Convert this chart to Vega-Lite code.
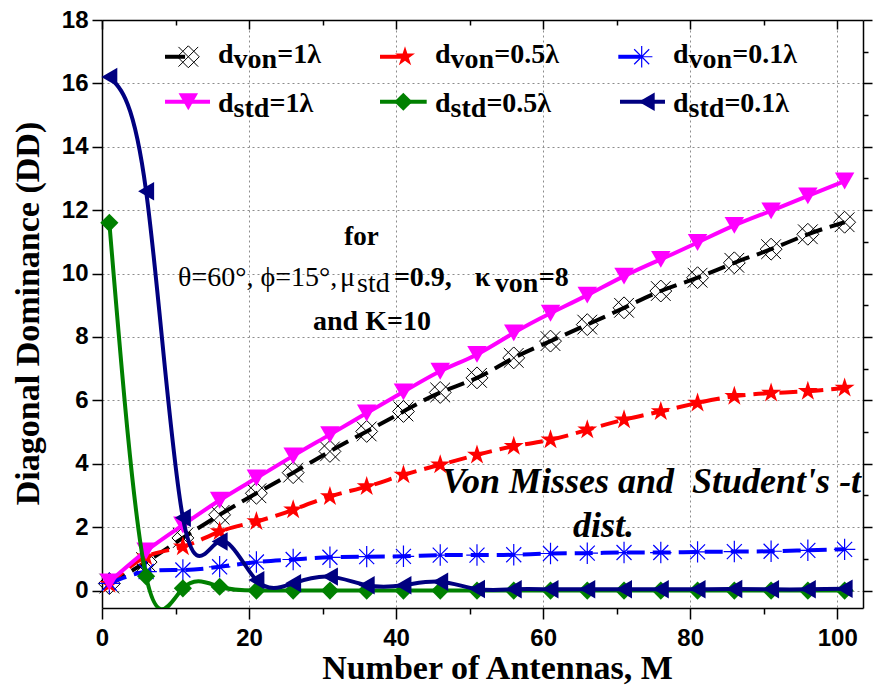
{
  "$schema": "https://vega.github.io/schema/vega-lite/v6.json",
  "width": 761,
  "height": 588,
  "autosize": {"type": "none"},
  "padding": {"left": 102, "top": 20, "right": 10, "bottom": 78},
  "background": "white",
  "datasets": {
    "von1": [
      {"M": 1, "DD": 0.22}, {"M": 6, "DD": 0.9}, {"M": 11, "DD": 1.66}, {"M": 16, "DD": 2.39}, {"M": 21, "DD": 3.07},
      {"M": 26, "DD": 3.72}, {"M": 31, "DD": 4.39}, {"M": 36, "DD": 5.02}, {"M": 41, "DD": 5.65}, {"M": 46, "DD": 6.25},
      {"M": 51, "DD": 6.71}, {"M": 56, "DD": 7.34}, {"M": 61, "DD": 7.87}, {"M": 66, "DD": 8.39}, {"M": 71, "DD": 8.92},
      {"M": 76, "DD": 9.45}, {"M": 81, "DD": 9.87}, {"M": 86, "DD": 10.34}, {"M": 91, "DD": 10.77}, {"M": 96, "DD": 11.24},
      {"M": 101, "DD": 11.62}
    ],
    "von05": [
      {"M": 1, "DD": 0.2}, {"M": 6, "DD": 1.07}, {"M": 11, "DD": 1.38}, {"M": 16, "DD": 1.86}, {"M": 21, "DD": 2.18},
      {"M": 26, "DD": 2.55}, {"M": 31, "DD": 2.97}, {"M": 36, "DD": 3.28}, {"M": 41, "DD": 3.65}, {"M": 46, "DD": 3.97},
      {"M": 51, "DD": 4.28}, {"M": 56, "DD": 4.55}, {"M": 61, "DD": 4.76}, {"M": 66, "DD": 5.07}, {"M": 71, "DD": 5.39},
      {"M": 76, "DD": 5.65}, {"M": 81, "DD": 5.92}, {"M": 86, "DD": 6.13}, {"M": 91, "DD": 6.23}, {"M": 96, "DD": 6.29},
      {"M": 101, "DD": 6.39}
    ],
    "von01": [
      {"M": 1, "DD": 0.23}, {"M": 6, "DD": 0.6}, {"M": 11, "DD": 0.65}, {"M": 16, "DD": 0.75}, {"M": 21, "DD": 0.9},
      {"M": 26, "DD": 0.98}, {"M": 31, "DD": 1.05}, {"M": 36, "DD": 1.07}, {"M": 41, "DD": 1.08}, {"M": 46, "DD": 1.12},
      {"M": 51, "DD": 1.12}, {"M": 56, "DD": 1.13}, {"M": 61, "DD": 1.17}, {"M": 66, "DD": 1.18}, {"M": 71, "DD": 1.2},
      {"M": 76, "DD": 1.2}, {"M": 81, "DD": 1.22}, {"M": 86, "DD": 1.23}, {"M": 91, "DD": 1.24}, {"M": 96, "DD": 1.27},
      {"M": 101, "DD": 1.3}
    ],
    "std1": [
      {"M": 1, "DD": 0.27}, {"M": 6, "DD": 1.25}, {"M": 11, "DD": 2.07}, {"M": 16, "DD": 2.85}, {"M": 21, "DD": 3.55},
      {"M": 26, "DD": 4.25}, {"M": 31, "DD": 4.92}, {"M": 36, "DD": 5.6}, {"M": 41, "DD": 6.27}, {"M": 46, "DD": 6.92},
      {"M": 51, "DD": 7.45}, {"M": 56, "DD": 8.13}, {"M": 61, "DD": 8.75}, {"M": 66, "DD": 9.32}, {"M": 71, "DD": 9.92},
      {"M": 76, "DD": 10.45}, {"M": 81, "DD": 10.98}, {"M": 86, "DD": 11.52}, {"M": 91, "DD": 11.98}, {"M": 96, "DD": 12.45},
      {"M": 101, "DD": 12.92}
    ],
    "std05": [
      {"M": 1, "DD": 11.6}, {"M": 6, "DD": 0.45}, {"M": 11, "DD": 0.07}, {"M": 16, "DD": 0.12}, {"M": 21, "DD": 0.0},
      {"M": 26, "DD": 0.0}, {"M": 31, "DD": 0.0}, {"M": 36, "DD": 0.0}, {"M": 41, "DD": 0.0}, {"M": 46, "DD": 0.0},
      {"M": 51, "DD": 0.0}, {"M": 56, "DD": 0.0}, {"M": 61, "DD": 0.0}, {"M": 66, "DD": 0.0}, {"M": 71, "DD": 0.0},
      {"M": 76, "DD": 0.0}, {"M": 81, "DD": 0.0}, {"M": 86, "DD": 0.0}, {"M": 91, "DD": 0.0}, {"M": 96, "DD": 0.0},
      {"M": 101, "DD": 0.0}
    ],
    "std01": [
      {"M": 1, "DD": 16.2}, {"M": 6, "DD": 12.6}, {"M": 11, "DD": 2.3}, {"M": 16, "DD": 1.55}, {"M": 21, "DD": 0.33},
      {"M": 26, "DD": 0.23}, {"M": 31, "DD": 0.44}, {"M": 36, "DD": 0.17}, {"M": 41, "DD": 0.17}, {"M": 46, "DD": 0.28},
      {"M": 51, "DD": 0.05}, {"M": 56, "DD": 0.04}, {"M": 61, "DD": 0.04}, {"M": 66, "DD": 0.04}, {"M": 71, "DD": 0.04},
      {"M": 76, "DD": 0.04}, {"M": 81, "DD": 0.04}, {"M": 86, "DD": 0.05}, {"M": 91, "DD": 0.04}, {"M": 96, "DD": 0.04},
      {"M": 101, "DD": 0.06}
    ],
    "one": [{}]
  },
  "config": {
    "view": {"stroke": null},
    "axis": {
      "domainColor": "black",
      "domainWidth": 1.5,
      "tickColor": "black",
      "tickWidth": 1.5,
      "labelFont": "Liberation Sans",
      "labelFontWeight": "bold",
      "labelFontSize": 24,
      "labelColor": "black",
      "titleFont": "Liberation Serif",
      "titleFontWeight": "bold",
      "titleFontSize": 34,
      "titleColor": "black",
      "gridColor": "#8c8c8c",
      "gridDash": [2, 3],
      "gridWidth": 1
    },
    "text": {"font": "Liberation Serif", "fontWeight": "bold", "fontSize": 28, "color": "black", "align": "left", "baseline": "alphabetic"}
  },
  "layer": [
    {
      "layer": [
        {
          "data": {"name": "von1"},
          "mark": {"type": "line", "color": "black", "strokeWidth": 4, "strokeDash": [18, 8], "interpolate": "natural", "clip": true},
          "encoding": {
            "x": {
              "field": "M", "type": "quantitative",
              "scale": {"domain": [0, 103.5], "nice": false, "zero": false},
              "axis": {
                "orient": "bottom",
                "title": "Number of Antennas, M",
                "titleX": 395, "titleY": 70, "titleAlign": "center", "titleBaseline": "alphabetic",
                "values": [0, 10, 20, 30, 40, 50, 60, 70, 80, 90, 100],
                "labelExpr": "datum.value % 20 === 0 ? datum.label : ''",
                "labelPadding": 7,
                "labelFlush": false,
                "tickSize": {"condition": {"test": "datum.value % 20 !== 0", "value": 6}, "value": 11},
                "grid": true,
                "gridOpacity": {"condition": {"test": "datum.value % 20 !== 0 || datum.value === 0", "value": 0}, "value": 1}
              }
            },
            "y": {
              "field": "DD", "type": "quantitative",
              "scale": {"domain": [-0.55, 18], "nice": false, "zero": false},
              "axis": {
                "orient": "left",
                "title": "Diagonal Dominance (DD)",
                "titleX": -64, "titleY": 293, "titleAngle": -90, "titleAlign": "center", "titleBaseline": "alphabetic",
                "values": [0, 1, 2, 3, 4, 5, 6, 7, 8, 9, 10, 11, 12, 13, 14, 15, 16, 17, 18],
                "labelExpr": "datum.value % 2 === 0 ? datum.label : ''",
                "labelPadding": 4,
                "labelFlush": false,
                "tickSize": {"condition": {"test": "datum.value % 2 !== 0", "value": 5}, "value": 10},
                "grid": true,
                "gridOpacity": {"condition": {"test": "datum.value % 2 !== 0 || datum.value === 18", "value": 0}, "value": 1}
              }
            }
          }
        },
        {
          "data": {"name": "von1"},
          "mark": {"type": "point", "shape": "M0,-1L1,0L0,1L-1,0Z M-0.9,-0.9L0.9,0.9 M0.9,-0.9L-0.9,0.9", "filled": false, "stroke": "black", "strokeWidth": 1, "size": 480, "opacity": 1},
          "encoding": {"x": {"field": "M", "type": "quantitative"}, "y": {"field": "DD", "type": "quantitative"}}
        },
        {
          "data": {"name": "von05"},
          "mark": {"type": "line", "color": "#ff0000", "strokeWidth": 4, "strokeDash": [18, 8], "interpolate": "natural", "clip": true},
          "encoding": {"x": {"field": "M", "type": "quantitative"}, "y": {"field": "DD", "type": "quantitative"}}
        },
        {
          "data": {"name": "von05"},
          "mark": {"type": "point", "shape": "M0,-1L0.2245,-0.309L0.951,-0.309L0.363,0.118L0.588,0.809L0,0.382L-0.588,0.809L-0.363,0.118L-0.951,-0.309L-0.2245,-0.309Z", "filled": true, "color": "#ff0000", "size": 440, "opacity": 1},
          "encoding": {"x": {"field": "M", "type": "quantitative"}, "y": {"field": "DD", "type": "quantitative"}}
        },
        {
          "data": {"name": "von01"},
          "mark": {"type": "line", "color": "#0000ff", "strokeWidth": 4, "strokeDash": [18, 8], "interpolate": "natural", "clip": true},
          "encoding": {"x": {"field": "M", "type": "quantitative"}, "y": {"field": "DD", "type": "quantitative"}}
        },
        {
          "data": {"name": "von01"},
          "mark": {"type": "point", "shape": "M-1,0L1,0M0,-1L0,1M-0.7,-0.7L0.7,0.7M-0.7,0.7L0.7,-0.7", "filled": false, "stroke": "#0000ff", "strokeWidth": 1.2, "size": 460, "opacity": 1},
          "encoding": {"x": {"field": "M", "type": "quantitative"}, "y": {"field": "DD", "type": "quantitative"}}
        },
        {
          "data": {"name": "std1"},
          "mark": {"type": "line", "color": "#ff00ff", "strokeWidth": 4, "interpolate": "natural", "clip": true},
          "encoding": {"x": {"field": "M", "type": "quantitative"}, "y": {"field": "DD", "type": "quantitative"}}
        },
        {
          "data": {"name": "std1"},
          "mark": {"type": "point", "shape": "triangle-down", "filled": true, "color": "#ff00ff", "size": 380, "opacity": 1},
          "encoding": {"x": {"field": "M", "type": "quantitative"}, "y": {"field": "DD", "type": "quantitative"}}
        },
        {
          "data": {"name": "std05"},
          "mark": {"type": "line", "color": "#008000", "strokeWidth": 4, "interpolate": "natural", "clip": true},
          "encoding": {"x": {"field": "M", "type": "quantitative"}, "y": {"field": "DD", "type": "quantitative"}}
        },
        {
          "data": {"name": "std05"},
          "mark": {"type": "point", "shape": "diamond", "filled": true, "color": "#008000", "size": 330, "opacity": 1},
          "encoding": {"x": {"field": "M", "type": "quantitative"}, "y": {"field": "DD", "type": "quantitative"}}
        },
        {
          "data": {"name": "std01"},
          "mark": {"type": "line", "color": "#000080", "strokeWidth": 4, "interpolate": "natural", "clip": true},
          "encoding": {"x": {"field": "M", "type": "quantitative"}, "y": {"field": "DD", "type": "quantitative"}}
        },
        {
          "data": {"name": "std01"},
          "mark": {"type": "point", "shape": "triangle-left", "filled": true, "color": "#000080", "size": 340, "opacity": 1},
          "encoding": {"x": {"field": "M", "type": "quantitative"}, "y": {"field": "DD", "type": "quantitative"}}
        },

        {"data": {"name": "one"}, "mark": {"type": "rule", "color": "black", "strokeWidth": 4}, "encoding": {"x": {"datum": 8.57}, "x2": {"datum": 11.3}, "y": {"datum": 16.84}}},
        {"data": {"name": "one"}, "mark": {"type": "point", "shape": "M0,-1L1,0L0,1L-1,0Z M-0.9,-0.9L0.9,0.9 M0.9,-0.9L-0.9,0.9", "filled": false, "stroke": "black", "strokeWidth": 1, "size": 480, "opacity": 1}, "encoding": {"x": {"datum": 11.74}, "y": {"datum": 16.84}}},
        {"data": {"name": "one"}, "mark": {"type": "rule", "color": "#ff0000", "strokeWidth": 4}, "encoding": {"x": {"datum": 37.81}, "x2": {"datum": 40.98}, "y": {"datum": 16.84}}},
        {"data": {"name": "one"}, "mark": {"type": "point", "shape": "M0,-1L0.2245,-0.309L0.951,-0.309L0.363,0.118L0.588,0.809L0,0.382L-0.588,0.809L-0.363,0.118L-0.951,-0.309L-0.2245,-0.309Z", "filled": true, "color": "#ff0000", "size": 440, "opacity": 1}, "encoding": {"x": {"datum": 41.21}, "y": {"datum": 16.84}}},
        {"data": {"name": "one"}, "mark": {"type": "rule", "color": "#0000ff", "strokeWidth": 4}, "encoding": {"x": {"datum": 70.22}, "x2": {"datum": 73.17}, "y": {"datum": 16.84}}},
        {"data": {"name": "one"}, "mark": {"type": "point", "shape": "M-1,0L1,0M0,-1L0,1M-0.7,-0.7L0.7,0.7M-0.7,0.7L0.7,-0.7", "filled": false, "stroke": "#0000ff", "strokeWidth": 1.2, "size": 460, "opacity": 1}, "encoding": {"x": {"datum": 73.4}, "y": {"datum": 16.84}}},
        {"data": {"name": "one"}, "mark": {"type": "rule", "color": "#ff00ff", "strokeWidth": 4}, "encoding": {"x": {"datum": 8.57}, "x2": {"datum": 14.69}, "y": {"datum": 15.42}}},
        {"data": {"name": "one"}, "mark": {"type": "point", "shape": "triangle-down", "filled": true, "color": "#ff00ff", "size": 380, "opacity": 1}, "encoding": {"x": {"datum": 11.74}, "y": {"datum": 15.42}}},
        {"data": {"name": "one"}, "mark": {"type": "rule", "color": "#008000", "strokeWidth": 4}, "encoding": {"x": {"datum": 37.81}, "x2": {"datum": 44.16}, "y": {"datum": 15.42}}},
        {"data": {"name": "one"}, "mark": {"type": "point", "shape": "diamond", "filled": true, "color": "#008000", "size": 330, "opacity": 1}, "encoding": {"x": {"datum": 40.98}, "y": {"datum": 15.42}}},
        {"data": {"name": "one"}, "mark": {"type": "rule", "color": "#000080", "strokeWidth": 4}, "encoding": {"x": {"datum": 70.45}, "x2": {"datum": 76.57}, "y": {"datum": 15.42}}},
        {"data": {"name": "one"}, "mark": {"type": "point", "shape": "triangle-left", "filled": true, "color": "#000080", "size": 340, "opacity": 1}, "encoding": {"x": {"datum": 74.08}, "y": {"datum": 15.42}}},

        {"data": {"name": "one"}, "mark": {"type": "text", "text": "d"}, "encoding": {"x": {"datum": 15.78}, "y": {"datum": 16.63}}},
        {"data": {"name": "one"}, "mark": {"type": "text", "text": "von"}, "encoding": {"x": {"datum": 17.89}, "y": {"datum": 16.48}}},
        {"data": {"name": "one"}, "mark": {"type": "text", "text": "=1λ"}, "encoding": {"x": {"datum": 23.83}, "y": {"datum": 16.63}}},
        {"data": {"name": "one"}, "mark": {"type": "text", "text": "d"}, "encoding": {"x": {"datum": 45.29}, "y": {"datum": 16.63}}},
        {"data": {"name": "one"}, "mark": {"type": "text", "text": "von"}, "encoding": {"x": {"datum": 47.41}, "y": {"datum": 16.48}}},
        {"data": {"name": "one"}, "mark": {"type": "text", "text": "=0.5λ"}, "encoding": {"x": {"datum": 53.34}, "y": {"datum": 16.63}}},
        {"data": {"name": "one"}, "mark": {"type": "text", "text": "d"}, "encoding": {"x": {"datum": 77.65}, "y": {"datum": 16.63}}},
        {"data": {"name": "one"}, "mark": {"type": "text", "text": "von"}, "encoding": {"x": {"datum": 79.78}, "y": {"datum": 16.48}}},
        {"data": {"name": "one"}, "mark": {"type": "text", "text": "=0.1λ"}, "encoding": {"x": {"datum": 85.71}, "y": {"datum": 16.63}}},
        {"data": {"name": "one"}, "mark": {"type": "text", "text": "d"}, "encoding": {"x": {"datum": 15.78}, "y": {"datum": 15.1}}},
        {"data": {"name": "one"}, "mark": {"type": "text", "text": "std"}, "encoding": {"x": {"datum": 17.89}, "y": {"datum": 14.94}}},
        {"data": {"name": "one"}, "mark": {"type": "text", "text": "=1λ"}, "encoding": {"x": {"datum": 22.77}, "y": {"datum": 15.1}}},
        {"data": {"name": "one"}, "mark": {"type": "text", "text": "d"}, "encoding": {"x": {"datum": 45.29}, "y": {"datum": 15.1}}},
        {"data": {"name": "one"}, "mark": {"type": "text", "text": "std"}, "encoding": {"x": {"datum": 47.41}, "y": {"datum": 14.94}}},
        {"data": {"name": "one"}, "mark": {"type": "text", "text": "=0.5λ"}, "encoding": {"x": {"datum": 52.28}, "y": {"datum": 15.1}}},
        {"data": {"name": "one"}, "mark": {"type": "text", "text": "d"}, "encoding": {"x": {"datum": 77.65}, "y": {"datum": 15.1}}},
        {"data": {"name": "one"}, "mark": {"type": "text", "text": "std"}, "encoding": {"x": {"datum": 79.78}, "y": {"datum": 14.94}}},
        {"data": {"name": "one"}, "mark": {"type": "text", "text": "=0.1λ"}, "encoding": {"x": {"datum": 84.65}, "y": {"datum": 15.1}}},

        {"data": {"name": "one"}, "mark": {"type": "text", "text": "for", "align": "center", "fontSize": 27}, "encoding": {"x": {"datum": 35.29}, "y": {"datum": 10.9}}},
        {"data": {"name": "one"}, "mark": {"type": "text", "text": "θ=60°, ϕ=15°,", "fontWeight": "normal"}, "encoding": {"x": {"datum": 10.34}, "y": {"datum": 9.61}}},
        {"data": {"name": "one"}, "mark": {"type": "text", "text": "μ", "fontWeight": "normal"}, "encoding": {"x": {"datum": 32.37}, "y": {"datum": 9.61}}},
        {"data": {"name": "one"}, "mark": {"type": "text", "text": "std", "fontWeight": "normal"}, "encoding": {"x": {"datum": 34.68}, "y": {"datum": 9.42}}},
        {"data": {"name": "one"}, "mark": {"type": "text", "text": "=0.9,"}, "encoding": {"x": {"datum": 39.7}, "y": {"datum": 9.61}}},
        {"data": {"name": "one"}, "mark": {"type": "text", "text": "κ"}, "encoding": {"x": {"datum": 50.7}, "y": {"datum": 9.61}}},
        {"data": {"name": "one"}, "mark": {"type": "text", "text": "von"}, "encoding": {"x": {"datum": 53.4}, "y": {"datum": 9.42}}},
        {"data": {"name": "one"}, "mark": {"type": "text", "text": "=8"}, "encoding": {"x": {"datum": 59.4}, "y": {"datum": 9.61}}},
        {"data": {"name": "one"}, "mark": {"type": "text", "text": "and K=10"}, "encoding": {"x": {"datum": 28.7}, "y": {"datum": 8.22}}},

        {"data": {"name": "one"}, "mark": {"type": "text", "text": "Von Misses and\u00a0 Student's -t", "fontStyle": "italic", "fontSize": 36}, "encoding": {"x": {"datum": 46.24}, "y": {"datum": 3.08}}},
        {"data": {"name": "one"}, "mark": {"type": "text", "text": "dist.", "fontStyle": "italic", "fontSize": 36}, "encoding": {"x": {"datum": 64.05}, "y": {"datum": 1.69}}}
      ]
    },
    {
      "data": {"name": "one"},
      "mark": {"type": "rule", "opacity": 0},
      "encoding": {
        "x": {
          "datum": 0, "type": "quantitative",
          "axis": {
            "orient": "top", "title": null, "labels": false, "grid": false,
            "values": [0, 10, 20, 30, 40, 50, 60, 70, 80, 90, 100],
            "tickSize": {"condition": {"test": "datum.value % 20 !== 0", "value": -5}, "value": -9}
          }
        },
        "y": {
          "datum": 0, "type": "quantitative",
          "axis": {
            "orient": "right", "title": null, "labels": false, "grid": false,
            "values": [0, 1, 2, 3, 4, 5, 6, 7, 8, 9, 10, 11, 12, 13, 14, 15, 16, 17, 18],
            "tickSize": {"condition": {"test": "datum.value % 2 !== 0", "value": 5}, "value": 9}
          }
        }
      }
    }
  ],
  "resolve": {"axis": {"x": "independent", "y": "independent"}}
}
